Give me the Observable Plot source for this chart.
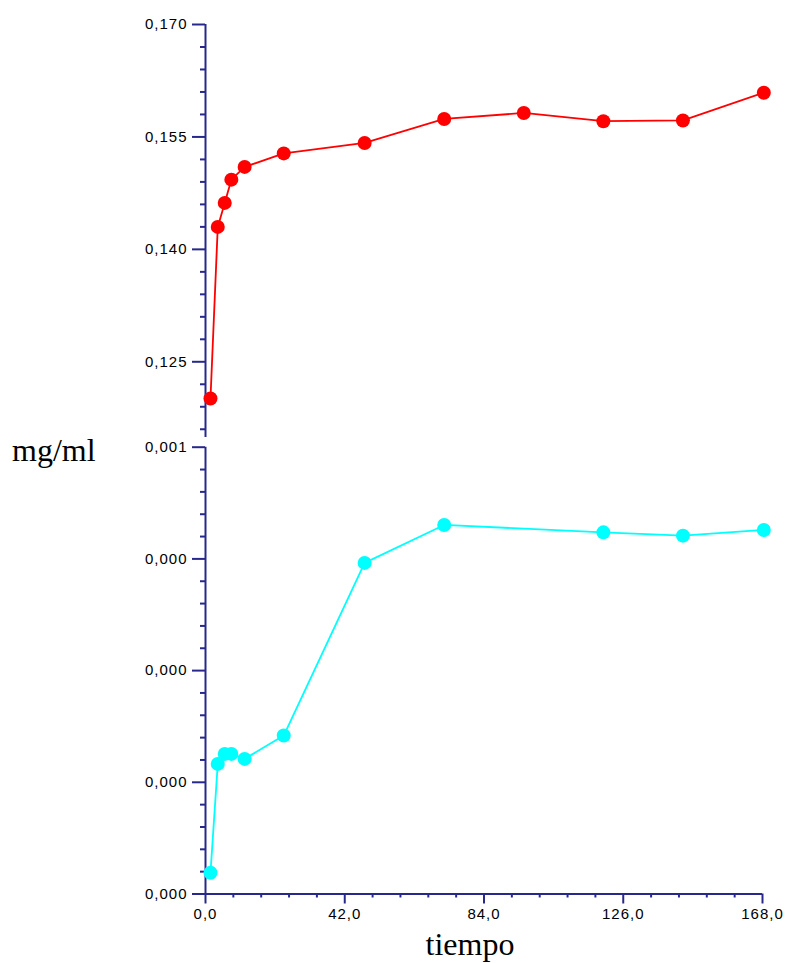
<!DOCTYPE html>
<html>
<head>
<meta charset="utf-8">
<script src="https://cdn.jsdelivr.net/npm/d3@7"></script>
<script src="https://cdn.jsdelivr.net/npm/@observablehq/plot@0.6"></script>
<style>
  html, body { margin: 0; padding: 0; background: #fff; }
  #chart { position: relative; width: 785px; height: 963px; background: #fff; overflow: hidden; }
  #chart svg { position: absolute; left: 0; }
  #chart svg text { font-family: "Liberation Sans", Arial, sans-serif; font-size: 15px; letter-spacing: 1px; }
  .lbl { position: absolute; font-family: "Liberation Serif", "Times New Roman", serif; font-size: 32px; line-height: 1; color: #000; white-space: nowrap; }
</style>
</head>
<body>
<div id="chart"></div>
<script>
// Sampling times (h)
const tiempo = [1.5, 3.7, 5.8, 7.8, 11.8, 23.6, 48, 72, 96, 120, 144, 168.4];
// Upper series (mg/ml)
const serieRoja = [0.1201, 0.1430, 0.1462, 0.1493, 0.1510, 0.1528, 0.1542, 0.1574, 0.1582, 0.1571, 0.1572, 0.1609];
// Lower series (mg/ml); no reading at 96 h
const serieCian = [0.0000237, 0.0001456, 0.0001568, 0.0001568, 0.0001512, 0.0001773, 0.0003705, 0.000413, null, 0.0004047, 0.000401, 0.0004074];

// Axis ticks and their labels
const xTicks = [0, 42, 84, 126, 168];
const xTickLabels = ["0,0", "42,0", "84,0", "126,0", "168,0"];
const yTicksRojo = [0.125, 0.140, 0.155, 0.170];
const yTickLabelsRojo = ["0,125", "0,140", "0,155", "0,170"];
const yTicksCian = [0, 0.000125, 0.00025, 0.000375, 0.0005];
const yTickLabelsCian = ["0,000", "0,000", "0,000", "0,000", "0,001"];

const AXIS = "#28288c";
const W = 785;
const xDomain = [0, 168];

const rojo = tiempo.map((t, i) => ({t, v: serieRoja[i]}));
const cian = tiempo.map((t, i) => ({t, v: serieCian[i]})).filter(d => d.v != null);

const fmt = (ticks, labels) => v => {
  const i = ticks.findIndex(t => Math.abs(t - v) < 1e-9);
  return i >= 0 ? labels[i] : "";
};

const minorRojo = d3.range(0.116, 0.1701, 0.003).filter(v => !yTicksRojo.some(t => Math.abs(t - v) < 1e-6));
const minorCian = d3.range(0, 0.00050001, 0.000025).filter(v => !yTicksCian.some(t => Math.abs(t - v) < 1e-9));
const minorX = d3.range(0, 168.001, 8.4).filter(v => !xTicks.some(t => Math.abs(t - v) < 1e-6));

const svgStyle = {fontFamily: "'Liberation Sans', Arial, sans-serif", background: "transparent", overflow: "visible", color: "#000"};

// Upper panel
const yLowRojo = 0.1149;
const panelRojo = Plot.plot({
  width: W, height: 440,
  marginTop: 24, marginBottom: 3, marginLeft: 205, marginRight: 23,
  style: svgStyle,
  x: {domain: xDomain, axis: null},
  y: {domain: [yLowRojo, 0.170], axis: null},
  marks: [
    Plot.axisY({ticks: minorRojo, tickSize: 5, tickFormat: () => "", label: null, stroke: AXIS, strokeWidth: 2}),
    Plot.axisY({ticks: yTicksRojo, tickSize: 13, tickPadding: 5, tickFormat: fmt(yTicksRojo, yTickLabelsRojo), label: null, stroke: AXIS, strokeWidth: 2, fill: "#000"}),
    Plot.ruleX([0], {y1: yLowRojo, y2: 0.170, stroke: AXIS, strokeWidth: 2}),
    Plot.line(rojo, {x: "t", y: "v", stroke: "#ff0000", strokeWidth: 1.8}),
    Plot.dot(rojo, {x: "t", y: "v", r: 7, fill: "#ff0000", stroke: "none"})
  ]
});
panelRojo.style.top = "0px";

// Lower panel
const panelCian = Plot.plot({
  width: W, height: 523,
  marginTop: 6.7, marginBottom: 69.5, marginLeft: 205, marginRight: 23,
  style: svgStyle,
  x: {domain: xDomain, axis: null},
  y: {domain: [0, 0.0005], axis: null},
  marks: [
    Plot.axisY({ticks: minorCian, tickSize: 5, tickFormat: () => "", label: null, stroke: AXIS, strokeWidth: 2}),
    Plot.axisY({ticks: yTicksCian, tickSize: 13, tickPadding: 5, tickFormat: fmt(yTicksCian, yTickLabelsCian), label: null, stroke: AXIS, strokeWidth: 2, fill: "#000"}),
    Plot.axisX({ticks: minorX, tickSize: 4, tickFormat: () => "", label: null, stroke: AXIS, strokeWidth: 2}),
    Plot.axisX({ticks: xTicks, tickSize: 10, tickPadding: 4, tickFormat: fmt(xTicks, xTickLabels), label: null, stroke: AXIS, strokeWidth: 2, fill: "#000"}),
    Plot.ruleX([0], {y1: 0, y2: 0.0005, stroke: AXIS, strokeWidth: 2}),
    Plot.ruleY([0], {x1: 0, x2: 168, stroke: AXIS, strokeWidth: 2}),
    Plot.line(cian, {x: "t", y: "v", stroke: "#00ffff", strokeWidth: 1.8}),
    Plot.dot(cian, {x: "t", y: "v", r: 7, fill: "#00ffff", stroke: "none"})
  ]
});
panelCian.style.top = "440px";

const chart = document.getElementById("chart");
chart.appendChild(panelRojo);
chart.appendChild(panelCian);

// Axis titles
const yTitle = document.createElement("div");
yTitle.className = "lbl";
yTitle.textContent = "mg/ml";
yTitle.style.left = "12px";
yTitle.style.top = "434px";
chart.appendChild(yTitle);

const xTitle = document.createElement("div");
xTitle.className = "lbl";
xTitle.textContent = "tiempo";
xTitle.style.left = "470px";
xTitle.style.top = "928px";
xTitle.style.transform = "translateX(-50%)";
chart.appendChild(xTitle);
</script>
</body>
</html>
